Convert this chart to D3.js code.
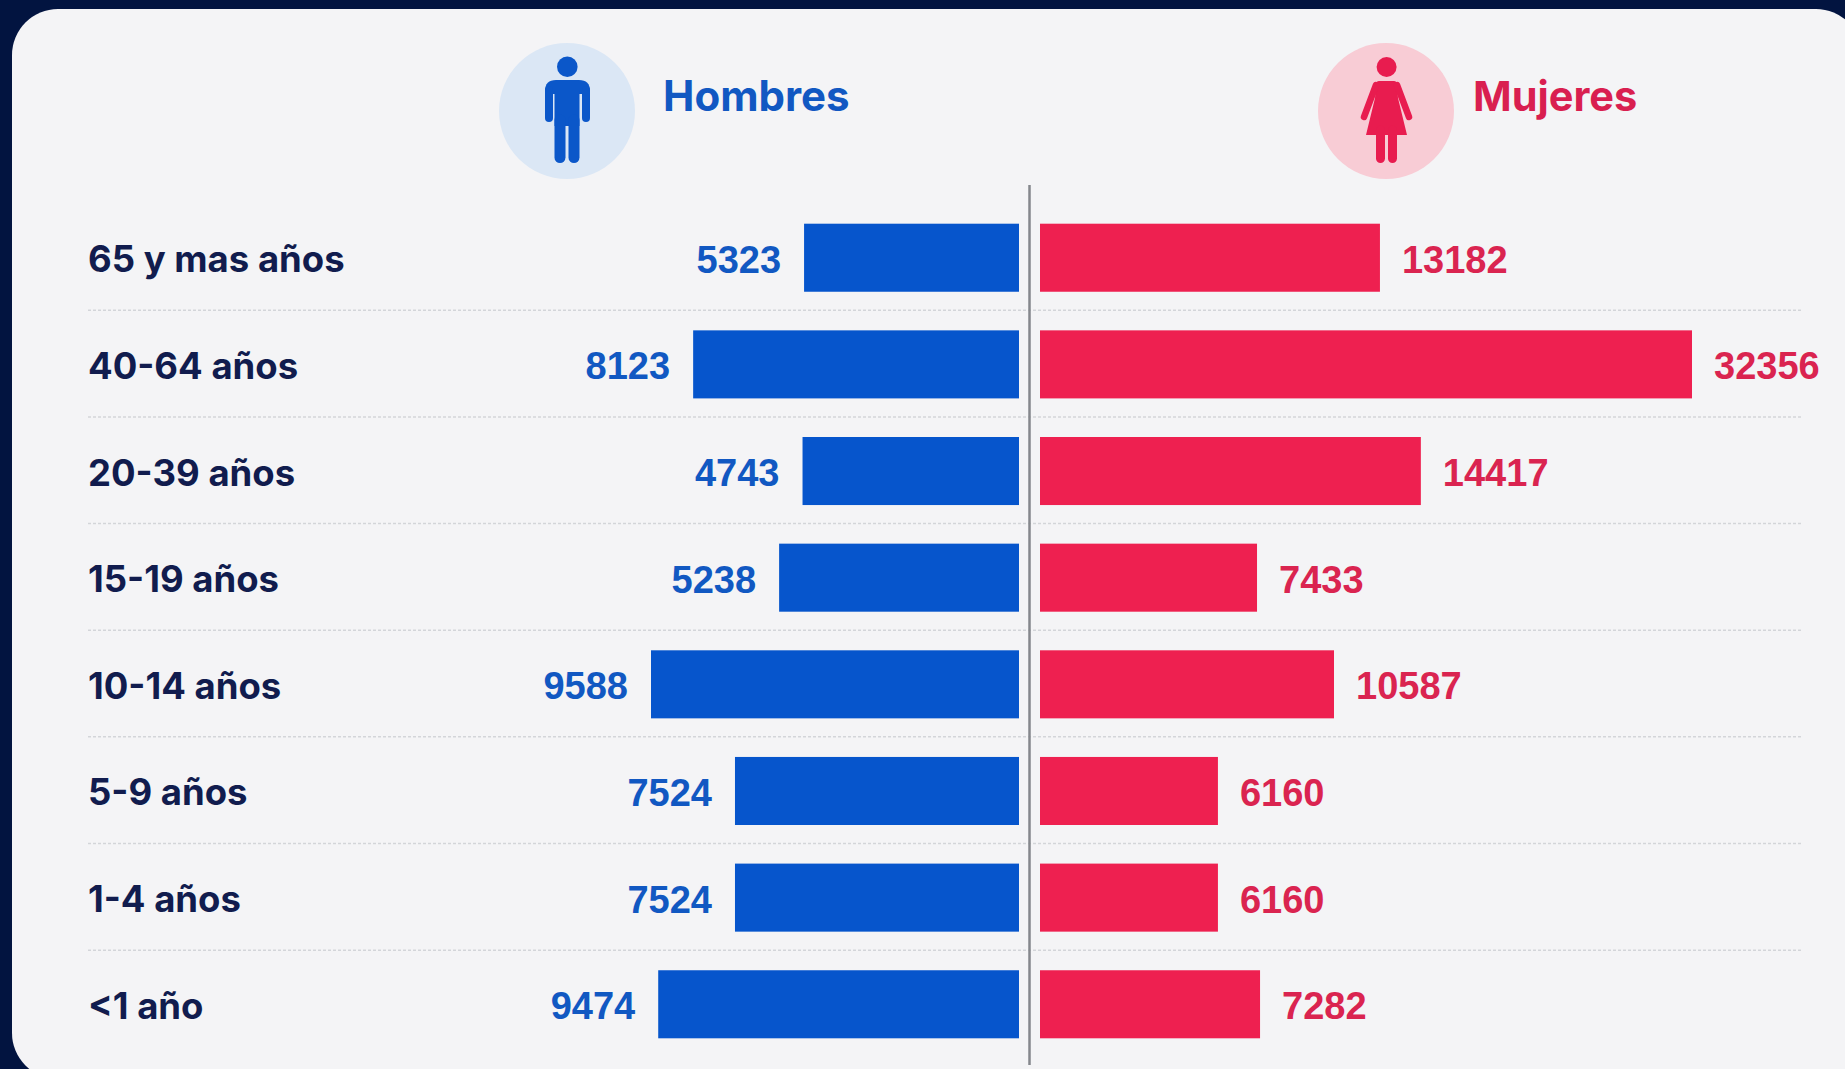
<!DOCTYPE html>
<html>
<head>
    <meta charset="utf-8">
    <style>
        html, body { margin: 0; padding: 0; background-color: #021440; overflow: hidden; }
        svg { display: block; }
        text { font-family: Inter, "Liberation Sans", Arial, sans-serif; font-weight: 700; }
        text.men_val, text.women_val { font-family: "Liberation Sans", Arial, sans-serif; }
    </style>
</head>
<body>
    <script src="https://d3js.org/d3.v7.min.js"></script>
    <script>
        var categories = ['65 y mas años', '40-64 años', '20-39 años', '15-19 años',
                          '10-14 años', '5-9 años', '1-4 años', '<1 año'];

        // printed numbers
        var men_labels = [5323, 8123, 4743, 5238, 9588, 7524, 7524, 9474];
        var women_labels = [13182, 32356, 14417, 7433, 10587, 6160, 6160, 7282];

        // the bars in the picture are not drawn to the printed numbers,
        // so these are read off the bar lengths (each side against its longest bar)
        var men_bars = [5600, 8490, 5640, 6250, 9588, 7400, 7400, 9400];
        var women_bars = [16870, 32356, 18900, 10770, 14590, 8830, 8830, 10920];

        var svg = d3.select('body')
                    .append('svg')
                    .attr('width', 1845)
                    .attr('height', 1069);

        var y = d3.scaleBand()
                  .domain(categories)
                  .range([204.4, 1057.6])
                  .paddingInner(0.362)
                  .paddingOuter(0.181);

        var x_men = d3.scaleLinear().domain([0, 9588]).range([1019, 651]);
        var x_women = d3.scaleLinear().domain([0, 32356]).range([1040, 1692]);

        // card
        svg.append('rect')
           .attr('x', 12)
           .attr('y', 9)
           .attr('width', 1850)
           .attr('height', 1070)
           .attr('rx', 46)
           .attr('fill', '#f4f4f6');

        // dotted separators between the rows
        svg.selectAll('line.sep')
           .data(categories.slice(0, -1))
           .enter()
           .append('line')
           .attr('class', 'sep')
           .attr('x1', 88)
           .attr('x2', 1801)
           .attr('y1', (d) => y(d) + y.bandwidth() + 18.5)
           .attr('y2', (d) => y(d) + y.bandwidth() + 18.5)
           .attr('stroke', '#d3d5d9')
           .attr('stroke-width', 1.5)
           .attr('stroke-dasharray', '3 2');

        // bars
        svg.selectAll('rect.men')
           .data(men_bars)
           .enter()
           .append('rect')
           .attr('class', 'men')
           .attr('x', (d) => x_men(d))
           .attr('y', (d, i) => y(categories[i]))
           .attr('width', (d) => x_men(0) - x_men(d))
           .attr('height', y.bandwidth())
           .attr('fill', '#0655cc');

        svg.selectAll('rect.women')
           .data(women_bars)
           .enter()
           .append('rect')
           .attr('class', 'women')
           .attr('x', x_women(0))
           .attr('y', (d, i) => y(categories[i]))
           .attr('width', (d) => x_women(d) - x_women(0))
           .attr('height', y.bandwidth())
           .attr('fill', '#ee2050');

        // center line
        svg.append('line')
           .attr('x1', 1029.5)
           .attr('x2', 1029.5)
           .attr('y1', 185)
           .attr('y2', 1065)
           .attr('stroke', '#85878c')
           .attr('stroke-width', 2.5);

        // row labels
        svg.selectAll('text.cat')
           .data(categories)
           .enter()
           .append('text')
           .attr('class', 'cat')
           .attr('x', 88)
           .attr('y', (d) => y(d) + y.bandwidth() / 2 + 14.5)
           .attr('font-size', 36.5)
           .attr('fill', '#111c4e')
           .text((d) => d);

        // value labels
        svg.selectAll('text.men_val')
           .data(men_labels)
           .enter()
           .append('text')
           .attr('class', 'men_val')
           .attr('x', (d, i) => x_men(men_bars[i]) - 23)
           .attr('y', (d, i) => y(categories[i]) + y.bandwidth() / 2 + 15)
           .attr('text-anchor', 'end')
           .attr('font-size', 38)
           .attr('fill', '#1158c2')
           .text((d) => d);

        svg.selectAll('text.women_val')
           .data(women_labels)
           .enter()
           .append('text')
           .attr('class', 'women_val')
           .attr('x', (d, i) => x_women(women_bars[i]) + 22)
           .attr('y', (d, i) => y(categories[i]) + y.bandwidth() / 2 + 15)
           .attr('font-size', 38)
           .attr('fill', '#da2450')
           .text((d) => d);

        // header, men
        svg.append('circle').attr('cx', 567).attr('cy', 111).attr('r', 68).attr('fill', '#dbe7f5');
        var man = svg.append('g').attr('fill', '#0b57c9').attr('stroke', 'none');
        man.append('circle').attr('cx', 567.3).attr('cy', 66.7).attr('r', 10.3);
        man.append('path').attr('d', 'M556 80 H579 Q590 80 590 91 V94 H545 V91 Q545 80 556 80 Z');
        man.append('rect').attr('x', 554.5).attr('y', 90).attr('width', 25).attr('height', 36);
        [549, 586].forEach(function(ax) {
            man.append('line')
               .attr('x1', ax).attr('x2', ax).attr('y1', 90).attr('y2', 118)
               .attr('stroke', '#0b57c9').attr('stroke-width', 8).attr('stroke-linecap', 'round');
        });
        [560, 574].forEach(function(lx) {
            man.append('line')
               .attr('x1', lx).attr('x2', lx).attr('y1', 120).attr('y2', 157.5)
               .attr('stroke', '#0b57c9').attr('stroke-width', 11).attr('stroke-linecap', 'round');
        });
        svg.append('text')
           .attr('x', 663)
           .attr('y', 110.5)
           .attr('font-size', 42)
           .attr('fill', '#1158c2')
           .text('Hombres');

        // header, women
        svg.append('circle').attr('cx', 1386).attr('cy', 111).attr('r', 68).attr('fill', '#f8ccd5');
        var woman = svg.append('g').attr('fill', '#e81c4f').attr('stroke', 'none');
        woman.append('circle').attr('cx', 1386.6).attr('cy', 67).attr('r', 10);
        woman.append('path')
             .attr('d', 'M1379 81 H1394 Q1397 81 1397 85 L1398 98 L1407 135 H1366 L1375 98 L1376 85 Q1376 81 1379 81 Z');
        [[1376, 1364], [1397, 1409]].forEach(function(a) {
            woman.append('line')
                 .attr('x1', a[0]).attr('y1', 85).attr('x2', a[1]).attr('y2', 117)
                 .attr('stroke', '#e81c4f').attr('stroke-width', 6.5).attr('stroke-linecap', 'round');
        });
        [1380.5, 1392.5].forEach(function(lx) {
            woman.append('line')
                 .attr('x1', lx).attr('x2', lx).attr('y1', 130).attr('y2', 158.5)
                 .attr('stroke', '#e81c4f').attr('stroke-width', 9).attr('stroke-linecap', 'round');
        });
        svg.append('text')
           .attr('x', 1473)
           .attr('y', 110.5)
           .attr('font-size', 41.5)
           .attr('fill', '#d91f50')
           .text('Mujeres');
    </script>
</body>
</html>
